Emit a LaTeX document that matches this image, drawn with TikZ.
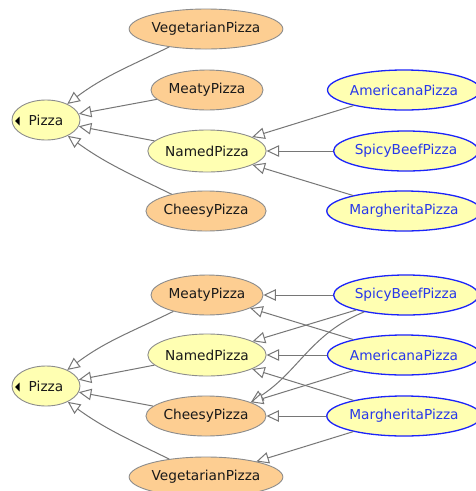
\documentclass[tikz,border=0pt]{standalone}
\usepackage{fontspec}
\setmainfont{DejaVu Sans}
\usetikzlibrary{shapes.geometric,arrows.meta}

\definecolor{orangefill}{RGB}{253,206,146}
\definecolor{gelbfill}{RGB}{255,255,178}
\definecolor{randgrau}{RGB}{140,140,140}
\definecolor{kantengrau}{RGB}{118,118,118}
\definecolor{blaurand}{RGB}{28,36,250}
\definecolor{blautext}{RGB}{40,56,235}

\tikzset{
  klasse/.style={ellipse,draw=randgrau,line width=0.9pt,inner sep=0pt,
    minimum height=40pt,text=black!90,font=\fontsize{13.7}{16}\selectfont},
  definiert/.style={klasse,fill=orangefill},
  primitiv/.style={klasse,fill=gelbfill},
  instanz/.style={klasse,fill=gelbfill,draw=blaurand,line width=1.3pt,text=blautext},
  isa/.style={draw=kantengrau,line width=1pt,
    -{Triangle[fill=white,length=12.5pt,width=11.5pt,line width=1pt]}},
  aufklapp/.style={fill=black}
}

\begin{document}
\begin{tikzpicture}[x=1pt,y=1pt]
  \fill[white] (0,0) rectangle (475,-491);
  \useasboundingbox (0,0) rectangle (475,-491);

  %Knoten oben
  \node[primitiv,minimum width=68pt] (pz1) at (46,-120) {Pizza};
  \node[definiert,minimum width=146pt] (veg1) at (206,-29) {VegetarianPizza};
  \node[definiert,minimum width=112pt] (meat1) at (207,-90) {MeatyPizza};
  \node[primitiv,minimum width=118pt,minimum height=42pt] (named1) at (207,-151) {NamedPizza};
  \node[definiert,minimum width=120pt] (chees1) at (206,-211) {CheesyPizza};
  \node[instanz,minimum width=140pt] (amer1) at (404,-90) {AmericanaPizza};
  \node[instanz,minimum width=134pt] (spicy1) at (406,-151) {SpicyBeefPizza};
  \node[instanz,minimum width=142pt] (marg1) at (404,-211) {MargheritaPizza};
  \fill[aufklapp] ([xshift=3.5pt,yshift=-1pt]pz1.west) -- ++(4.5,4.5) -- ++(0,-9) -- cycle;

  %Kanten oben
  \draw[isa] (veg1) to[out=206,in=37] (pz1);
  \draw[isa] (meat1) -- (pz1);
  \draw[isa] (named1) -- (pz1);
  \draw[isa] (chees1) to[out=154,in=-36] (pz1);
  \draw[isa] (amer1) -- (named1);
  \draw[isa] (spicy1) -- (named1);
  \draw[isa] (marg1) -- (named1);

  %Knoten unten
  \node[primitiv,minimum width=68pt] (pz2) at (46,-386) {Pizza};
  \node[definiert,minimum width=112pt] (meat2) at (207,-295) {MeatyPizza};
  \node[primitiv,minimum width=118pt,minimum height=42pt] (named2) at (207,-355) {NamedPizza};
  \node[definiert,minimum width=120pt] (chees2) at (206,-416) {CheesyPizza};
  \node[definiert,minimum width=146pt] (veg2) at (206,-477) {VegetarianPizza};
  \node[instanz,minimum width=134pt] (spicy2) at (406,-295) {SpicyBeefPizza};
  \node[instanz,minimum width=140pt] (amer2) at (404,-355) {AmericanaPizza};
  \node[instanz,minimum width=142pt] (marg2) at (404,-416) {MargheritaPizza};
  \fill[aufklapp] ([xshift=3.5pt,yshift=-1pt]pz2.west) -- ++(4.5,4.5) -- ++(0,-9) -- cycle;

  %Kanten unten
  \draw[isa] (meat2) to[out=206,in=37] (pz2);
  \draw[isa] (named2) -- (pz2);
  \draw[isa] (chees2) -- (pz2);
  \draw[isa] (veg2) to[out=154,in=-36] (pz2);
  \draw[isa] (spicy2) -- (meat2);
  \draw[isa] (spicy2) -- (named2);
  \draw[isa] (spicy2) to[out=202,in=33] (chees2.17);
  \draw[isa] (amer2) -- (meat2);
  \draw[isa] (amer2) -- (named2);
  \draw[isa] (amer2) -- (chees2);
  \draw[isa] (marg2) -- (named2);
  \draw[isa] (marg2) -- (chees2);
  \draw[isa] (marg2) -- (veg2);
\end{tikzpicture}
\end{document}
